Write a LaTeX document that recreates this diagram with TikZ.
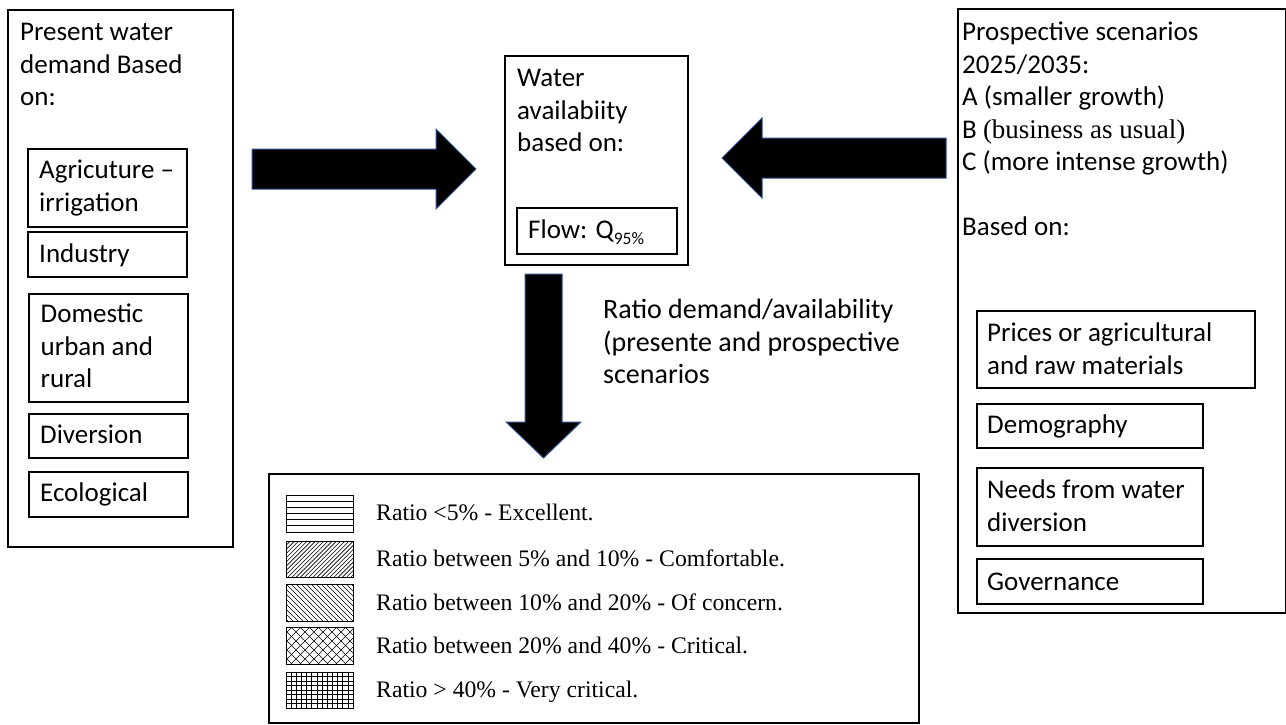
\documentclass[tikz,border=0pt]{standalone}
\usepackage{fontspec}
\setmainfont{Carlito}
\newfontfamily\tms{Liberation Serif}
\definecolor{arrowblue}{RGB}{47,82,143}
\begin{document}
\begin{tikzpicture}[x=1pt,y=-1pt,
  box/.style={draw=black, line width=2pt, inner sep=0pt, anchor=north west},
  sbox/.style={draw=black, line width=2.2pt, inner sep=0pt, anchor=north west},
  txt/.style={anchor=north west, inner sep=0pt, align=left, font=\fontsize{27}{32.5}\selectfont},
  ltxt/.style={anchor=base west, inner sep=0pt, font=\tms\fontsize{23.7}{27}\selectfont},
  barrow/.style={fill=black, draw=arrowblue, line width=1pt, line join=miter},
  swatch/.style={draw=black, line width=0.9pt},
  pat/.style={line width=0.6pt, black}]
\useasboundingbox (0,0) rectangle (1286,724);

% ---------- left box ----------
\node[box, minimum width=225pt, minimum height=537pt] (left) at (7,9) {};
\node[txt] (lefttitle) at (20,17.7) {\strut Present water\\demand Based\\on:};
\node[sbox, minimum width=159pt, minimum height=78pt] (agri) at (27,148) {};
\node[txt] (agritxt) at (39,155.7) {\strut Agricuture --\\irrigation};
\node[sbox, minimum width=159pt, minimum height=45pt] (ind) at (27,231) {};
\node[txt] (indtxt) at (39,239.7) {\strut Industry};
\node[sbox, minimum width=159pt, minimum height=108pt] (dom) at (28,293) {};
\node[txt] (domtxt) at (40.5,299.7) {\strut Domestic\\urban and\\rural};
\node[sbox, minimum width=159pt, minimum height=44pt] (div) at (28,413) {};
\node[txt] (divtxt) at (40,420.7) {\strut Diversion};
\node[sbox, minimum width=159pt, minimum height=45pt] (eco) at (28,471) {};
\node[txt] (ecotxt) at (40,478.7) {\strut Ecological};

% ---------- middle box ----------
\node[box, minimum width=183pt, minimum height=209pt] (mid) at (504,55) {};
\node[txt] (midtxt) at (517,63.7) {\strut Water\\availabiity\\based on:};
\node[sbox, minimum width=160pt, minimum height=46pt] (flow) at (516,207) {};
\node[txt] (flowtxt) at (528,215.7) {\strut Flow: Q\raisebox{-6pt}{\fontsize{17.5}{17.5}\selectfont 95\%}};

% ---------- right box ----------
\node[box, minimum width=328pt, minimum height=604pt] (right) at (957,8) {};
\node[txt] (righttxt) at (962,17.7) {\strut Prospective scenarios\\2025/2035:\\A (smaller growth)\\B {\tms (business as usual)}\\C (more intense growth)\\[32.5pt]Based on:};
\node[sbox, minimum width=278pt, minimum height=77pt] (prices) at (976,310) {};
\node[txt] (pricestxt) at (987,318.7) {\strut Prices or agricultural\\and raw materials};
\node[sbox, minimum width=226pt, minimum height=44pt] (demo) at (976,403) {};
\node[txt] (demotxt) at (987,410.7) {\strut Demography};
\node[sbox, minimum width=226pt, minimum height=78pt] (needs) at (976,467) {};
\node[txt] (needstxt) at (987,475.7) {\strut Needs from water\\diversion};
\node[sbox, minimum width=226pt, minimum height=45pt] (gov) at (976,558) {};
\node[txt] (govtxt) at (987,567.7) {\strut Governance};

% ---------- block arrows ----------
\draw[barrow] (252,149) -- (436,149) -- (436,129) -- (476,169) -- (436,209) -- (436,189) -- (252,189) -- cycle;
\draw[barrow] (946,138) -- (762,138) -- (762,118) -- (722,158) -- (762,198) -- (762,178) -- (946,178) -- cycle;
\draw[barrow] (525,274) -- (562,274) -- (562,422) -- (581,422) -- (543.5,458) -- (506,422) -- (525,422) -- cycle;

\node[txt, font=\fontsize{28}{32.5}\selectfont] (ratiotxt) at (603,295.7) {\strut Ratio demand/availability\\(presente and prospective\\scenarios};

% ---------- legend ----------
\node[box, minimum width=650pt, minimum height=249pt] (legend) at (268,473) {};

% swatch 1: horizontal lines
\begin{scope}
\clip (286,495) rectangle (353,532);
\foreach \k in {1,...,5} {\draw[pat] (286,495+6.1*\k) -- (353,495+6.1*\k);}
\end{scope}
\draw[swatch] (286,495) rectangle (353,532);
% swatch 2: north-east lines
\begin{scope}
\clip (286,541) rectangle (353,577);
\foreach \i in {-40,-35.8,...,75} {\draw[pat] (286+\i,577) -- (322+\i,541);}
\end{scope}
\draw[swatch] (286,541) rectangle (353,577);
% swatch 3: north-west lines
\begin{scope}
\clip (286,584) rectangle (353,621);
\foreach \i in {-40,-35,...,75} {\draw[pat] (286+\i,584) -- (323+\i,621);}
\end{scope}
\draw[swatch] (286,584) rectangle (353,621);
% swatch 4: crosshatch
\begin{scope}
\clip (286,627) rectangle (353,664);
\foreach \i in {-40,-31,...,80} {\draw[pat] (286+\i,627) -- (323+\i,664); \draw[pat] (286+\i,664) -- (323+\i,627);}
\end{scope}
\draw[swatch] (286,627) rectangle (353,664);
% swatch 5: grid
\begin{scope}
\clip (286,672) rectangle (353,708);
\foreach \i in {1,...,13} {\draw[pat] (286+5.15*\i,672) -- (286+5.15*\i,708);}
\foreach \k in {1,...,7} {\draw[pat] (286,672+4.5*\k) -- (353,672+4.5*\k);}
\end{scope}
\draw[swatch] (286,672) rectangle (353,708);

\node[ltxt] (l1) at (376,520.6) {Ratio <5\% - Excellent.};
\node[ltxt] (l2) at (376,566.6) {Ratio between 5\% and 10\% - Comfortable.};
\node[ltxt] (l3) at (376,610.6) {Ratio between 10\% and 20\% - Of concern.};
\node[ltxt] (l4) at (376,653.6) {Ratio between 20\% and 40\% - Critical.};
\node[ltxt] (l5) at (376,697.6) {Ratio > 40\% - Very critical.};
\end{tikzpicture}
\end{document}
